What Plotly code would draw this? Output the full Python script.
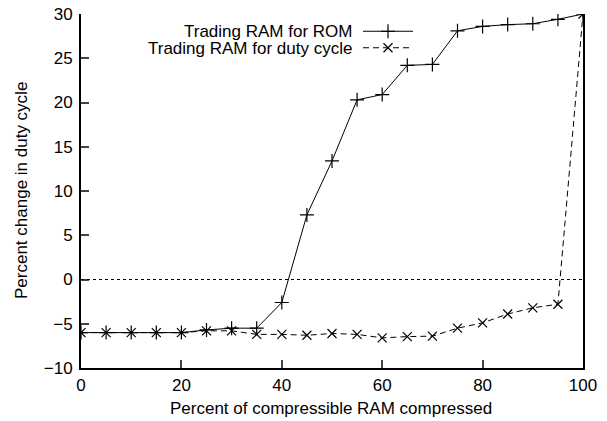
import plotly.graph_objects as go

x_vals = [0, 5, 10, 15, 20, 25, 30, 35, 40, 45, 50, 55, 60, 65, 70, 75, 80, 85, 90, 95, 100]
rom_vals = [-6.0, -6.0, -6.0, -6.0, -6.0, -5.7, -5.5, -5.5, -2.6, 7.3, 13.4, 20.3, 20.9, 24.2, 24.3,
            28.1, 28.6, 28.8, 28.9, 29.4, 30.0]
duty_vals = [-6.0, -6.0, -6.0, -6.0, -6.0, -5.8, -5.8, -6.2, -6.2, -6.3, -6.1, -6.2, -6.6, -6.45, -6.4,
             -5.5, -4.9, -3.9, -3.2, -2.8, 30.0]
series_names = ["Trading RAM for ROM", "Trading RAM for duty cycle"]
x_title = "Percent of compressible RAM compressed"
y_title = "Percent change in duty cycle"
x_ticks = [0, 20, 40, 60, 80, 100]
y_ticks = [-10, -5, 0, 5, 10, 15, 20, 25, 30]

FONT = "Liberation Sans, Arial, Helvetica, sans-serif"
FS = 17
W, H = 607, 421
# target screen box: left 81, right 583, top 14, bottom 368
L, T = 81, 14
R = W - 583
B = H - 368
PW, PH = W - L - R, H - T - B


def px(sx):  # screen x -> paper x
    return (sx - L) / PW


def py(sy):  # screen y -> paper y
    return 1 - (sy - T) / PH


fig = go.Figure()
fig.add_trace(go.Scatter(x=x_vals, y=rom_vals, mode="lines+markers", name=series_names[0],
                         line=dict(color="black", width=1),
                         marker=dict(symbol="cross-thin", size=10, line=dict(color="black", width=1.2))))
fig.add_trace(go.Scatter(x=x_vals, y=duty_vals, mode="lines+markers", name=series_names[1],
                         line=dict(color="black", width=1, dash="6px,4px"),
                         marker=dict(symbol="x-thin", size=9, line=dict(color="black", width=1.2))))

# legend samples on an overlay axis
fig.add_trace(go.Scatter(x=[0.0, 1.0], y=[0.75, 0.75], mode="lines", xaxis="x2", yaxis="y2",
                         line=dict(color="black", width=1), showlegend=False, hoverinfo="skip"))
fig.add_trace(go.Scatter(x=[0.5], y=[0.75], mode="markers", xaxis="x2", yaxis="y2",
                         marker=dict(symbol="cross-thin", size=10, line=dict(color="black", width=1.2)),
                         showlegend=False, hoverinfo="skip"))
fig.add_trace(go.Scatter(x=[0.0, 1.0], y=[0.25, 0.25], mode="lines", xaxis="x2", yaxis="y2",
                         line=dict(color="black", width=1, dash="6px,4px"), showlegend=False, hoverinfo="skip"))
fig.add_trace(go.Scatter(x=[0.5], y=[0.25], mode="markers", xaxis="x2", yaxis="y2",
                         marker=dict(symbol="x-thin", size=9, line=dict(color="black", width=1.2)),
                         showlegend=False, hoverinfo="skip"))

# legend text
for name, sy in zip(series_names, [31.5, 48.5]):
    fig.add_annotation(x=px(354), y=py(sy), xref="paper", yref="paper", text=name,
                       showarrow=False, xanchor="right", yanchor="middle",
                       font=dict(family=FONT, size=FS, color="black"))

# axis titles
fig.add_annotation(x=px(331), y=py(408), xref="paper", yref="paper", text=x_title, showarrow=False,
                   xanchor="center", yanchor="middle", font=dict(family=FONT, size=FS, color="black"))
fig.add_annotation(x=px(21), y=py(191), xref="paper", yref="paper", text=y_title, showarrow=False,
                   textangle=-90, xanchor="center", yanchor="middle",
                   font=dict(family=FONT, size=FS, color="black"))

# dotted zero axis
fig.add_shape(type="line", xref="paper", yref="y", x0=0, x1=1, y0=0, y1=0,
              line=dict(color="black", width=1, dash="3px,3px"))

fig.update_layout(
    width=W, height=H,
    margin=dict(l=L, r=R, t=T, b=B, autoexpand=False),
    paper_bgcolor="white", plot_bgcolor="white",
    showlegend=False,
    font=dict(family=FONT, size=FS, color="black"),
    xaxis=dict(range=[0, 100], tickvals=x_ticks, ticks="inside", ticklen=8, tickwidth=1.5,
               showline=True, linecolor="black", linewidth=2, showgrid=False, zeroline=False,
               automargin=False, ticklabelstandoff=1, ticklabeloverflow="allow", tickfont=dict(size=FS)),
    yaxis=dict(range=[-10, 30], tickvals=y_ticks, ticks="inside", ticklen=8, tickwidth=1.5,
               showline=True, linecolor="black", linewidth=2, mirror=True, showgrid=False, zeroline=False,
               automargin=False, ticklabelstandoff=3, ticklabeloverflow="allow", tickfont=dict(size=FS)),
    xaxis2=dict(domain=[px(363), px(413)], range=[0, 1], visible=False, anchor="y2"),
    yaxis2=dict(domain=[py(56), py(23)], range=[0, 1], visible=False, anchor="x2"),
)

fig.write_html("out.html", config={"displayModeBar": False},
               post_script="document.body.style.margin='0px';")
